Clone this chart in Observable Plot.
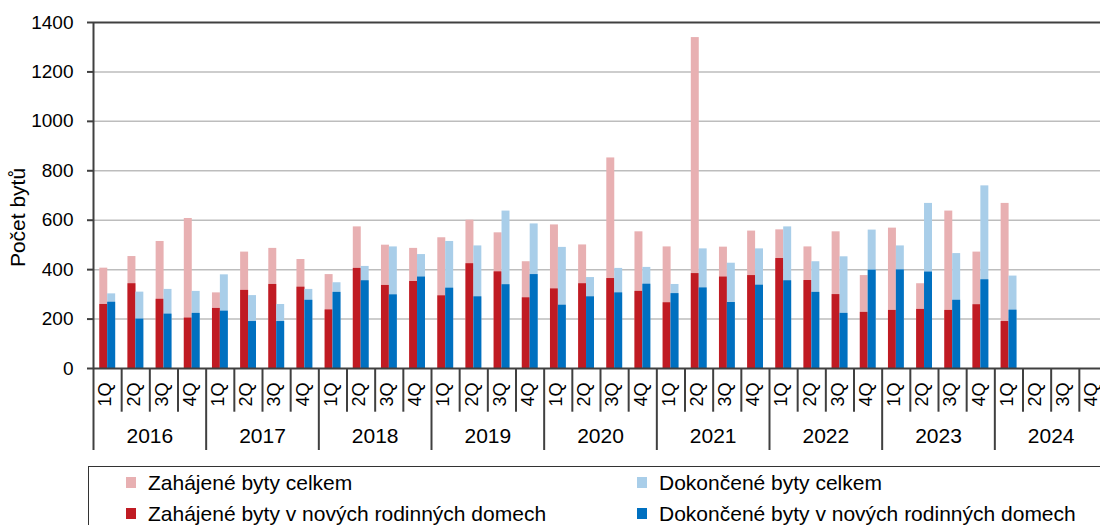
<!DOCTYPE html>
<html>
<head>
<meta charset="utf-8">
<script src="https://cdn.jsdelivr.net/npm/d3@7"></script>
<script src="https://cdn.jsdelivr.net/npm/@observablehq/plot@0.6"></script>
<style>
  html, body { margin: 0; padding: 0; background: #fff; overflow: hidden; }
  body { width: 1100px; height: 525px; font-family: "Liberation Sans", Arial, sans-serif; position: relative; }
  #chart { position: absolute; left: 0; top: 0; }
  #legend { position: absolute; left: 88px; top: 466px; width: 1100px; height: 100px; border: 1.5px solid #333; box-sizing: border-box; }
  .item { position: absolute; font-size: 21px; color: #000; line-height: 24px; white-space: nowrap; }
  .sw { position: absolute; width: 10px; height: 11px; }
</style>
</head>
<body>
<div id="chart"></div>
<div id="legend"></div>
<script>
const years = ["2016", "2017", "2018", "2019", "2020", "2021", "2022", "2023", "2024"];
const quarters = ["1Q", "2Q", "3Q", "4Q"];
const yTicks = [0, 200, 400, 600, 800, 1000, 1200, 1400];

const seriesNames = [
  "Zahájené byty celkem",
  "Dokončené byty celkem",
  "Zahájené byty v nových rodinných domech",
  "Dokončené byty v nových rodinných domech"
];
const seriesColors = ["#e8b0b2", "#a9cee9", "#c01b23", "#0070c0"];

const zahajeneCelkem = [406, 453, 514, 607, 306, 471, 486, 441, 380, 573, 499, 486, 529, 600, 549, 432, 581, 500, 852, 553, 492, 1339, 491, 556, 561, 492, 553, 376, 568, 343, 637, 471, 668];
const zahajeneRD = [259, 343, 280, 204, 243, 316, 340, 329, 237, 405, 336, 352, 294, 424, 391, 286, 322, 343, 364, 312, 266, 384, 370, 376, 445, 356, 299, 227, 235, 239, 235, 258, 190];
const dokonceneCelkem = [302, 309, 320, 312, 379, 295, 259, 320, 347, 413, 492, 461, 514, 496, 637, 585, 490, 368, 405, 409, 340, 484, 426, 484, 573, 432, 452, 560, 496, 668, 465, 739, 374];
const dokonceneRD = [268, 200, 220, 223, 232, 190, 190, 276, 308, 355, 298, 370, 325, 290, 339, 380, 256, 290, 306, 341, 303, 326, 267, 337, 355, 308, 223, 398, 399, 390, 276, 359, 236];

// all period slots (9 years x 4 quarters)
const slots = [];
years.forEach((y, yi) => quarters.forEach((q, qi) => slots.push({i: yi * 4 + qi, year: y, q})));
const toRows = (arr) => arr.map((v, i) => ({i, value: v}));

const font = '"Liberation Sans", Arial, sans-serif';
const axisColor = "#404040";
const H = 460, MT = 22, MB = 92;
const plotH = H - MT - MB;

const leftBar = {x1: "i", x2: d => d.i + 1, y1: d => 0, y2: "value", insetLeft: 6.3, insetRight: 13.9};
const rightBar = {x1: "i", x2: d => d.i + 1, y1: d => 0, y2: "value", insetLeft: 14.2, insetRight: 6.0};

const boundaries = d3.range(0, slots.length + 1);

const chart = Plot.plot({
  width: 1100,
  height: H,
  marginTop: MT,
  marginBottom: MB,
  marginLeft: 93,
  marginRight: -7,
  style: {fontFamily: font, background: "transparent", overflow: "visible"},
  x: {type: "linear", domain: [0, slots.length], axis: null},
  y: {domain: [0, 1400], axis: null},
  marks: [
    Plot.gridY(yTicks.filter(t => t > 0 && t < 1400), {stroke: "#bdbdbd", strokeOpacity: 1, strokeWidth: 1.5}),
    Plot.rectY(toRows(zahajeneCelkem), {...leftBar, fill: seriesColors[0]}),
    Plot.rectY(toRows(zahajeneRD), {...leftBar, fill: seriesColors[2]}),
    Plot.rectY(toRows(dokonceneCelkem), {...rightBar, fill: seriesColors[1]}),
    Plot.rectY(toRows(dokonceneRD), {...rightBar, fill: seriesColors[3]}),
    Plot.ruleY([1400], {stroke: axisColor, strokeWidth: 2}),
    Plot.ruleY([0], {stroke: axisColor, strokeWidth: 2}),
    Plot.ruleX([0], {stroke: axisColor, strokeWidth: 2}),
    Plot.axisY({ticks: yTicks, tickSize: 6, tickPadding: 14, fontSize: 19, stroke: axisColor, strokeWidth: 2, color: "#000", label: null, tickFormat: d => String(d)}),
    // quarter separators
    Plot.ruleX(boundaries.filter(b => b % 4 !== 0), {stroke: axisColor, strokeWidth: 2, insetTop: plotH, insetBottom: -43.7}),
    // year separators
    Plot.ruleX(boundaries.filter(b => b % 4 === 0), {stroke: axisColor, strokeWidth: 2, insetTop: plotH, insetBottom: -82}),
    // quarter labels
    Plot.text(slots, {x: d => d.i + 0.5, frameAnchor: "bottom", text: "q", rotate: -90, textAnchor: "middle", lineAnchor: "middle", dy: 26, dx: -2, fontSize: 18, fill: "#000"}),
    // year labels
    Plot.text(years, {x: (d, i) => i * 4 + 2, frameAnchor: "bottom", text: d => d, textAnchor: "middle", lineAnchor: "middle", dy: 68, fontSize: 21, fill: "#000"}),
    // y title
    Plot.text(["Počet bytů"], {frameAnchor: "left", text: d => d, rotate: -90, textAnchor: "middle", lineAnchor: "middle", dx: -75, dy: 22, fontSize: 21, fill: "#000"})
  ]
});
document.getElementById("chart").appendChild(chart);

// legend
const legend = document.getElementById("legend");
const legendPos = [
  {x: 37, y: 3.5},   // Zahájené celkem
  {x: 548, y: 3.5},  // Dokončené celkem
  {x: 37, y: 34.5},  // Zahájené RD
  {x: 548, y: 34.5}  // Dokončené RD
];
seriesNames.forEach((name, k) => {
  const p = legendPos[k];
  const sw = document.createElement("div");
  sw.className = "sw";
  sw.style.left = p.x + "px";
  sw.style.top = (p.y + 6) + "px";
  sw.style.background = seriesColors[k];
  legend.appendChild(sw);
  const t = document.createElement("div");
  t.className = "item";
  t.style.left = (p.x + 22) + "px";
  t.style.top = p.y + "px";
  t.textContent = name;
  legend.appendChild(t);
});
</script>
</body>
</html>
